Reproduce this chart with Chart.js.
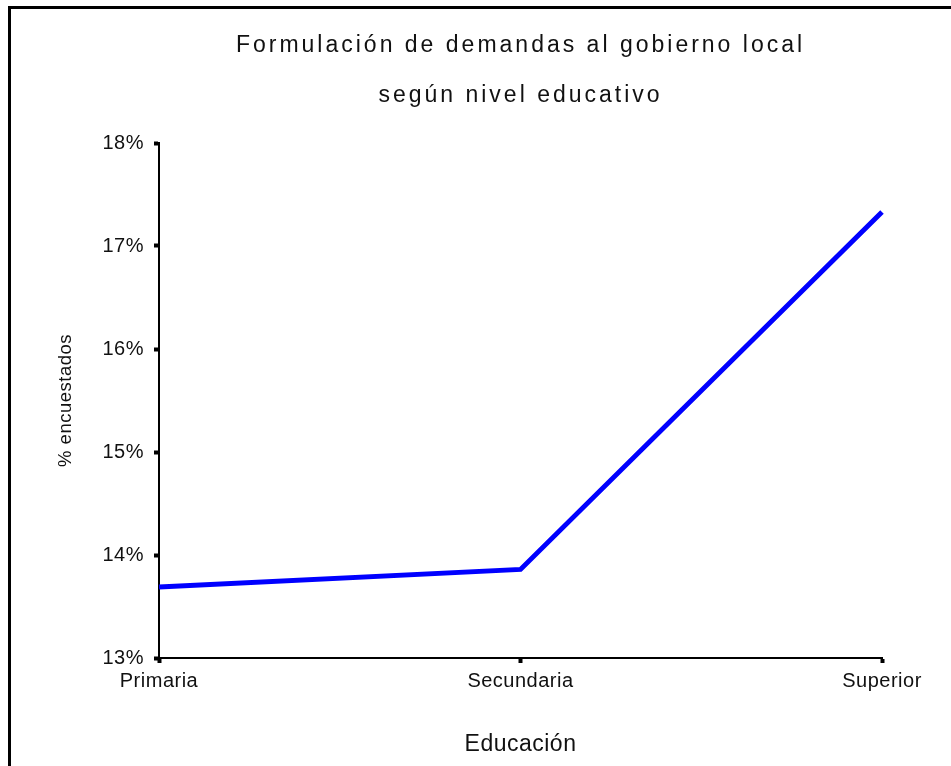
<!DOCTYPE html>
<html lang="es">
<head>
<meta charset="utf-8">
<title>Formulación de demandas al gobierno local</title>
<script src="https://cdn.jsdelivr.net/npm/chart.js@4/dist/chart.umd.min.js"></script>
<style>
  html, body { margin: 0; padding: 0; background: #fff; overflow: hidden; width: 951px; height: 766px; }
  #chart { display: block; }
</style>
</head>
<body>
<canvas id="chart" width="951" height="766"></canvas>
<script>
const titleLines = ["Formulación de demandas al gobierno local", "según nivel educativo"];
const categories = ["Primaria", "Secundaria", "Superior"];
const demandas = [13.69, 13.86, 17.33];
const yTicks = [13, 14, 15, 16, 17, 18];
const xLabel = "Educación";
const yLabel = "% encuestados";

const FONT = "'Liberation Sans', Arial, sans-serif";

// old SPSS look: text set a bit wider than the font normally does
const spacingPlugin = {
  id: "spacing",
  beforeLayout: (chart) => { chart.ctx.letterSpacing = "0.5px"; },
  beforeDraw: (chart) => { chart.ctx.letterSpacing = "0.5px"; }
};

// page frame (left + top edges only, the rest is cut off) and the two-line title
const decorPlugin = {
  id: "decor",
  beforeDraw: (chart) => {
    const { ctx, width, height } = chart;
    ctx.save();
    ctx.strokeStyle = "#000";
    ctx.lineWidth = 3;
    ctx.lineJoin = "miter";
    ctx.beginPath();
    ctx.moveTo(9.5, height + 5);
    ctx.lineTo(9.5, 7.5);
    ctx.lineTo(width + 5, 7.5);
    ctx.stroke();
    ctx.restore();
  },
  afterDraw: (chart) => {
    const { ctx, chartArea } = chart;
    const cx = (chartArea.left + chartArea.right) / 2;
    ctx.save();
    ctx.letterSpacing = "3px";
    ctx.font = `23px ${FONT}`;
    ctx.fillStyle = "#111";
    ctx.textAlign = "center";
    ctx.textBaseline = "alphabetic";
    ctx.fillText(titleLines[0], cx, 52);
    ctx.fillText(titleLines[1], cx, 102);
    ctx.restore();
  }
};

new Chart(document.getElementById("chart"), {
  type: "line",
  data: {
    labels: categories,
    datasets: [{
      data: demandas,
      borderColor: "#0000ff",
      borderWidth: 5,
      pointRadius: 0,
      tension: 0,
      fill: false
    }]
  },
  plugins: [spacingPlugin, decorPlugin],
  options: {
    responsive: false,
    animation: false,
    layout: { padding: { top: 143, right: 69, bottom: 0, left: 0 } },
    plugins: { legend: { display: false }, tooltip: { enabled: false }, title: { display: false } },
    scales: {
      x: {
        offset: false,
        border: { display: true, color: "#000", width: 2 },
        grid: { drawOnChartArea: false, drawTicks: true, tickLength: 5, tickWidth: 4, tickColor: "#000" },
        ticks: { color: "#111", font: { family: FONT, size: 20 }, padding: 6, maxRotation: 0, autoSkip: false },
        title: { display: true, text: xLabel, color: "#111", font: { family: FONT, size: 23 }, padding: { top: 0, bottom: 8 } },
        afterFit: (scale) => { scale.height = 108; }
      },
      y: {
        min: yTicks[0],
        max: yTicks[yTicks.length - 1],
        afterBuildTicks: (scale) => { scale.ticks = yTicks.map((v) => ({ value: v })); },
        border: { display: true, color: "#000", width: 2 },
        grid: { drawOnChartArea: false, drawTicks: true, tickLength: 5, tickWidth: 4, tickColor: "#000" },
        ticks: { color: "#111", font: { family: FONT, size: 20 }, padding: 10, callback: (v) => `${v}%` },
        title: { display: true, text: yLabel, color: "#111", font: { family: FONT, size: 18.5 }, padding: { top: 55, bottom: 0 } },
        afterFit: (scale) => { scale.width = 159; }
      }
    }
  }
});
</script>
</body>
</html>
